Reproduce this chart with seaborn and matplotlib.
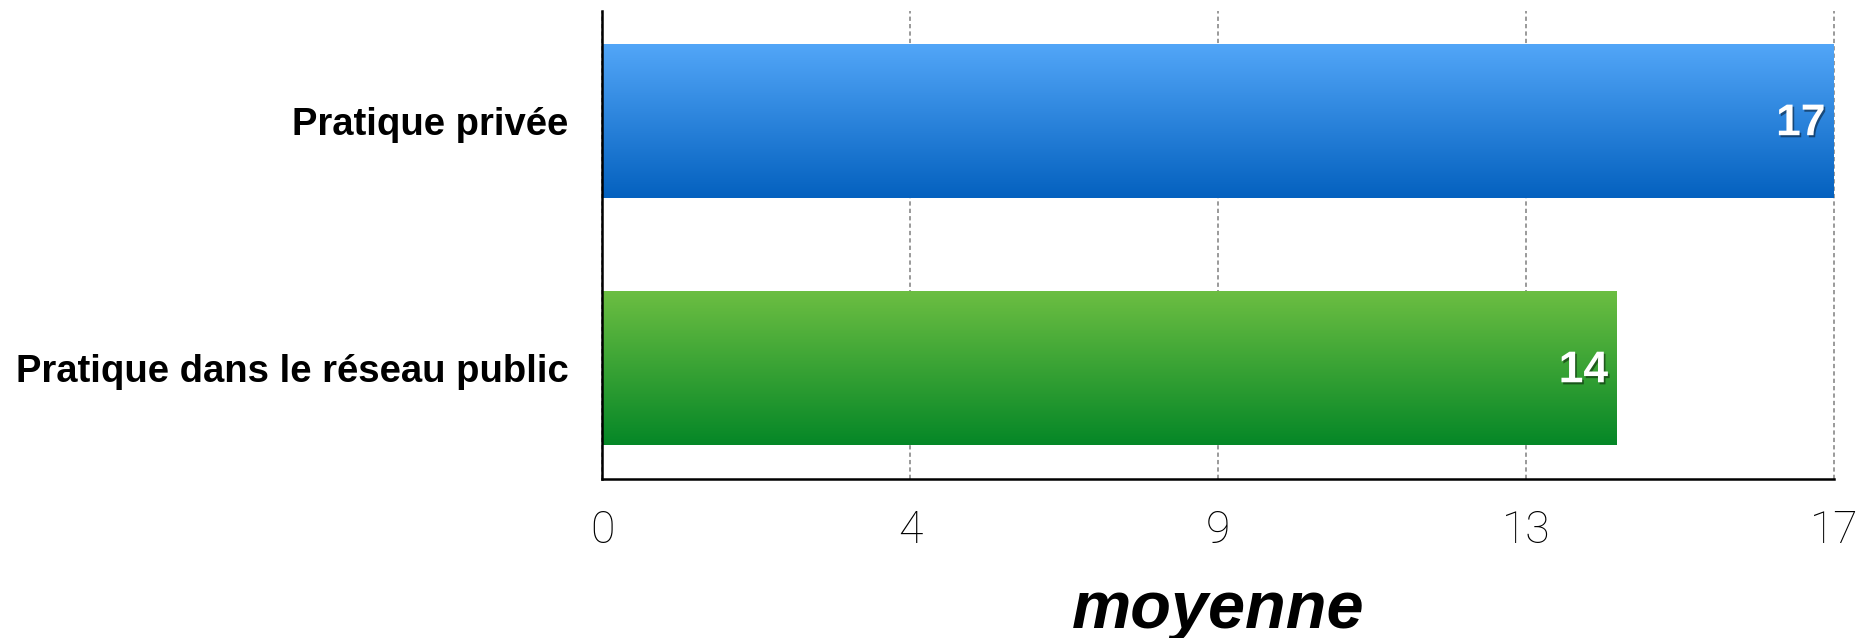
import numpy as np
import pandas as pd
import seaborn as sns
import matplotlib
import matplotlib.pyplot as plt
import matplotlib.patheffects as pe
from matplotlib.colors import LinearSegmentedColormap

sns.set_style('white')
matplotlib.rcParams['font.family'] = ['Liberation Sans', 'DejaVu Sans']
matplotlib.rcParams['text.color'] = 'black'
matplotlib.rcParams['xtick.color'] = 'black'
matplotlib.rcParams['ytick.color'] = 'black'
matplotlib.rcParams['axes.labelcolor'] = 'black'

categories = ["Pratique privée", "Pratique dans le réseau public"]
values = [17, 14]
top_colors = ["#52A6F8", "#6CBE42"]
bottom_colors = ["#0461BF", "#058727"]
xlabel = "moyenne"

df = pd.DataFrame({"cat": categories, "val": values})

fig = plt.figure(figsize=(18.7, 6.38), dpi=100)
ax = fig.add_axes([0.3219, 0.2497, 0.6588, 0.7331])

sns.barplot(data=df, x="val", y="cat", ax=ax, width=0.62, color="#3a8ee6",
            edgecolor="none", linewidth=0, zorder=2)

"""gradient fill clipped to each bar"""
for patch, c_top, c_bot in zip(ax.patches, top_colors, bottom_colors):
    x0, w = patch.get_x(), patch.get_width()
    y0, h = patch.get_y(), patch.get_height()
    cmap = LinearSegmentedColormap.from_list("g", [c_top, c_bot])
    grad = np.linspace(0, 1, 256).reshape(-1, 1)
    im = ax.imshow(grad, cmap=cmap, extent=(x0, x0 + w, y0 + h, y0),
                   origin='upper', aspect='auto', zorder=2.1,
                   interpolation='bilinear')
    im.set_clip_path(patch)
    patch.set_facecolor("none")

vmax = max(values)
ticks = np.linspace(0, vmax, 5)
ax.set_xlim(0, vmax)
ax.set_ylim(1.448, -0.445)
ax.set_xticks(ticks)
ax.set_xticklabels([str(int(np.floor(t + 0.5))) for t in ticks],
                   fontsize=32, family=['Roboto', 'DejaVu Sans'], fontweight='light',
                   color='black')
ax.set_yticks(range(len(categories)))
ax.set_yticklabels(categories, fontsize=27.5, fontweight='bold', color='black')
ax.tick_params(axis='x', length=0, pad=22)
ax.tick_params(axis='y', length=0, pad=24)

ax.set_axisbelow(True)
ax.xaxis.grid(True, linestyle=(0, (2.2, 1.6)), color='#9a9a9a', linewidth=1.4)
for gl in ax.get_xgridlines():
    gl.set_clip_on(False)
ax.yaxis.grid(False)

for side in ['top', 'right']:
    ax.spines[side].set_visible(False)
for side in ['left', 'bottom']:
    ax.spines[side].set_color('black')
    ax.spines[side].set_linewidth(1.8)
    ax.spines[side].set_zorder(3)

ax.set_xlabel(xlabel, fontsize=48, fontweight='bold', fontstyle='italic', labelpad=20,
              color='black')
ax.set_ylabel("")

"""value labels"""
for i, v in enumerate(values):
    ax.annotate(str(v), xy=(v, i), xytext=(-6, -2), textcoords='offset points',
                ha='right', va='center', fontsize=32, fontweight='bold',
                color='white', zorder=5,
                path_effects=[pe.SimplePatchShadow(offset=(1.2, -1.5), shadow_rgbFace='black', alpha=0.45),
                              pe.Normal()])

fig.savefig("out.png", dpi=100)
